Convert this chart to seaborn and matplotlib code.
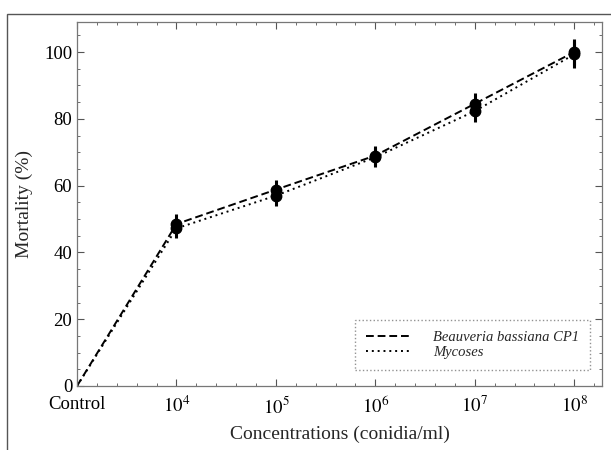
import pandas as pd
import seaborn as sns
import matplotlib.pyplot as plt
from matplotlib.patches import Rectangle
from matplotlib.ticker import AutoMinorLocator, MultipleLocator

# Data
concentrations = ['Control', '$10^4$', '$10^5$', '$10^6$', '$10^7$', '$10^8$']
beauveria = [0, 48.5, 58.8, 69.0, 84.5, 100.0]
beauveria_err = [0, 3.0, 3.0, 2.8, 3.2, 4.0]
mycoses = [0, 47.2, 57.0, 68.5, 82.3, 99.3]
mycoses_err = [0, 3.0, 3.0, 2.8, 3.2, 4.0]
series_names = ['Beauveria bassiana CP1', 'Mycoses']

positions = list(range(len(concentrations)))
df = pd.DataFrame({
    'pos': positions * 2,
    'mortality': beauveria + mycoses,
    'err': beauveria_err + mycoses_err,
    'series': [series_names[0]] * len(positions) + [series_names[1]] * len(positions),
})

sns.set_style('ticks')
plt.rcParams['font.family'] = ['Liberation Serif', 'DejaVu Serif']
plt.rcParams['mathtext.fontset'] = 'stix'

fig = plt.figure(figsize=(6.11, 4.5), dpi=100)
ax = fig.add_axes([77 / 611, 1 - 386 / 450, (602 - 77) / 611, (386 - 22) / 450])

# outer frame of the original figure
fig.patches.append(Rectangle((7 / 611, -0.1), 1.2, 1 - 14 / 450 + 0.1, transform=fig.transFigure,
                             fill=False, edgecolor='#555555', linewidth=1.0))

sns.lineplot(data=df, x='pos', y='mortality', style='series', color='black',
             dashes={series_names[0]: (4, 2), series_names[1]: (1, 2)},
             linewidth=1.4, ax=ax, legend=True)

# error bars and markers (skip control)
for name in series_names:
    sub = df[(df['series'] == name) & (df['pos'] > 0)]
    ax.errorbar(sub['pos'], sub['mortality'], yerr=sub['err'], fmt='o', color='black',
                markersize=7.5, elinewidth=2.2, capsize=0)

ax.set_xlim(0, 5.28)
ax.set_ylim(0, 109)
ax.set_xticks(positions)
ax.set_xticklabels(concentrations)
ax.yaxis.set_major_locator(MultipleLocator(20))
ax.xaxis.set_minor_locator(AutoMinorLocator(5))
ax.yaxis.set_minor_locator(AutoMinorLocator(4))
ax.tick_params(which='both', direction='in', top=True, right=True, colors='#555555',
               labelcolor='black', labelsize=13.5)
ax.tick_params(axis='x', which='major', pad=7)
ax.tick_params(which='major', length=5)
ax.tick_params(which='minor', length=2.5)
for s in ax.spines.values():
    s.set_color('#777777')
    s.set_linewidth(0.9)

ax.set_xlabel('Concentrations (conidia/ml)', fontsize=14, labelpad=6)
ax.set_ylabel('Mortality (%)', fontsize=14, labelpad=8)

h, l = ax.get_legend_handles_labels()
leg = ax.legend(h[:2], series_names, loc='lower right', bbox_to_anchor=(0.977, 0.044),
                borderaxespad=0, prop={'style': 'italic', 'size': 10.5}, fancybox=False,
                handlelength=3.0, handletextpad=1.6, borderpad=0.75, labelspacing=0.15)
leg.get_frame().set_edgecolor('#777777')
leg.get_frame().set_linestyle(':')
leg.get_frame().set_linewidth(1.0)

fig.savefig('out.png', dpi=100)
